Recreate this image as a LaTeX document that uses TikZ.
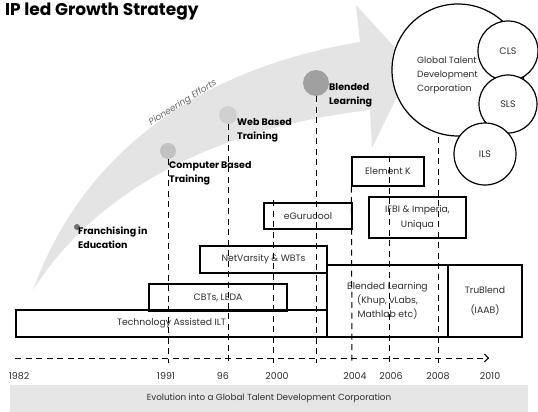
\documentclass[tikz,border=0pt]{standalone}
\usepackage{fontspec}
\setmainfont{Poppins}
\usetikzlibrary{arrows.meta}
\definecolor{bandgray}{HTML}{E6E6E6}
\definecolor{arrowgray}{HTML}{E4E4E4}
\definecolor{dotdark}{HTML}{6E6E6E}
\definecolor{dotmid}{HTML}{A0A0A0}
\definecolor{dotlight}{HTML}{C2C2C2}
\definecolor{dotpale}{HTML}{D0D0D0}
\definecolor{txtgray}{HTML}{2E2E2E}
\begin{document}
\begin{tikzpicture}[x=1pt,y=-1pt,
  box/.style={draw=black, line width=1.2pt, inner sep=0pt, text=txtgray,
    font=\fontsize{9.3}{14}\selectfont, align=center},
  vline/.style={line width=1pt, dash pattern=on 6pt off 4.5pt},
  dot/.style={circle, inner sep=0pt, draw=none},
  milestone/.style={anchor=north west, inner sep=0pt, align=left,
    font=\bfseries\fontsize{9.5}{14}\selectfont},
  year/.style={text=txtgray, font=\fontsize{9.5}{10}\selectfont},
  ring/.style={circle, draw=black, line width=1.2pt, fill=white, inner sep=0pt,
    text=txtgray, font=\fontsize{9.5}{14}\selectfont}
]
\useasboundingbox (0,0) rectangle (538,412);

% title
\node[anchor=base west, inner sep=0pt, font=\bfseries\fontsize{17}{19}\selectfont] (title) at (5,16) {IP led Growth Strategy};

% the sweeping growth arrow
\fill[arrowgray] (33,290) .. controls (80,160) and (190,70) .. (360,42)
  -- (356,5) -- (412,66) -- (372,148) -- (370,110)
  .. controls (200,130) and (90,200) .. (33,290) -- cycle;
\node[rotate=32, inner sep=0pt, text=black!60, font=\itshape\fontsize{9}{10}\selectfont] (pioneer) at (183,103) {Pioneering Efforts};

% milestones on the arrow
\node[dot, fill=dotdark, minimum size=6pt] (dfran) at (77,227) {};
\node[dot, fill=dotlight, minimum size=16pt] (dcbt) at (168,151) {};
\node[dot, fill=dotpale, minimum size=18pt] (dwbt) at (228,115) {};
\node[dot, fill=dotmid, minimum size=26pt] (dbl) at (316,83) {};

\node[milestone] (lfran) at (78,227) {Franchising in\\Education};
\node[milestone] (lcbt) at (169,161) {Computer Based\\Training};
\node[milestone] (lwbt) at (237,118) {Web Based\\Training};
\node[milestone] (lbl) at (329,83) {Blended\\Learning};

% offerings over time
\node[box, minimum width=311pt, minimum height=27pt] (ilt) at (171.5,323.5) {Technology Assisted ILT};
\node[box, minimum width=138pt, minimum height=27pt] (cbt) at (218,297.5) {CBTs, LEDA};
\node[box, minimum width=127pt, minimum height=27pt] (netv) at (263.5,259.5) {NetVarsity \& WBTs};
\node[box, minimum width=88pt, minimum height=26pt] (egc) at (308,216) {eGurucool};
\node[box, minimum width=72pt, minimum height=29pt] (elk) at (388,171.5) {Element K};
\node[box, minimum width=97pt, minimum height=41pt, font=\fontsize{9.3}{15}\selectfont] (ifbi) at (417.5,217.5) {IFBI \& Imperia,\\Uniqua};
\node[box, minimum width=121pt, minimum height=72pt] (blend) at (387.5,301) {Blended Learning\\(Khup, vLabs,\\Mathlab etc)};
\node[box, minimum width=74pt, minimum height=72pt, font=\fontsize{9.3}{20}\selectfont] (trub) at (485,301) {TruBlend\\(IAAB)};

% the corporation and its schools
\node[ring, minimum size=132pt] (gtdc) at (458,70) {};
\node[anchor=north west, inner sep=0pt, align=left, text=txtgray, font=\fontsize{9}{14}\selectfont] (gtdct) at (417,57) {Global Talent\\Development\\Corporation};
\node[ring, minimum size=60pt] (cls) at (508,51) {CLS};
\node[ring, minimum size=58pt] (sls) at (508,104) {SLS};
\node[ring, minimum size=62pt] (ils) at (485,154) {ILS};

% year markers
\coordinate (t2000) at (273,200);
\coordinate (t2008) at (438,137);
\coordinate (e1991) at (168,363);
\coordinate (e1996) at (228,363);
\coordinate (e2000) at (273,363);
\coordinate (e2002) at (316,363);
\coordinate (e2004) at (352,363);
\coordinate (e2006) at (389,363);
\coordinate (e2008) at (438,363);
\draw[vline] (dcbt.south) -- (e1991);
\draw[vline] (dwbt.south) -- (e1996);
\draw[vline] (t2000) -- (e2000);
\draw[vline] (dbl.south) -- (e2002);
\draw[vline] (elk.south west) -- (e2004);
\draw[vline] (elk.north) ++(1,0) -- (e2006);
\draw[vline] (t2008) -- (e2008);

% time axis
\coordinate (tl0) at (15,358);
\coordinate (tl1) at (489,358);
\draw[vline, -{Straight Barb[length=4pt,width=8pt,line width=1pt]}] (tl0) -- (tl1);
\node[year] (y1982) at (19,376) {1982};
\node[year] (y1991) at (166,376) {1991};
\node[year] (y1996) at (223,376) {96};
\node[year] (y2000) at (277,376) {2000};
\node[year] (y2004) at (355,376) {2004};
\node[year] (y2006) at (391,376) {2006};
\node[year] (y2008) at (438,376) {2008};
\node[year] (y2010) at (490,376) {2010};

% caption band
\node[fill=bandgray, minimum width=518pt, minimum height=27pt, inner sep=0pt, text=txtgray, font=\fontsize{8.8}{10}\selectfont] (band) at (269,398.5) {Evolution into a Global Talent Development Corporation};
\end{tikzpicture}
\end{document}
